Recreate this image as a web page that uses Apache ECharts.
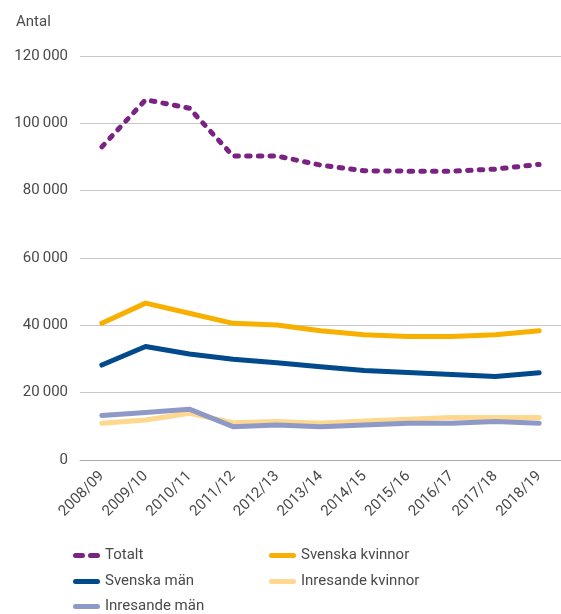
<!DOCTYPE html>
<html>
<head>
<meta charset="utf-8">
<script src="https://cdn.jsdelivr.net/npm/echarts@6/dist/echarts.min.js"></script>
<style>
  html, body { margin: 0; padding: 0; background: #fff; }
  #chart { width: 561px; height: 614px; }
</style>
</head>
<body>
<div id="chart"></div>
<script>
// läsåren
const years = ['2008/09', '2009/10', '2010/11', '2011/12', '2012/13', '2013/14',
  '2014/15', '2015/16', '2016/17', '2017/18', '2018/19']
const totalt = [93000, 107000, 104500, 90300, 90300, 87600, 85900, 85800, 85800, 86400, 87800]
const svenskaKvinnor = [40600, 46600, 43600, 40600, 40100, 38400, 37200, 36700, 36700, 37200, 38400]
const svenskaMan = [28200, 33700, 31500, 29900, 28900, 27700, 26600, 26000, 25400, 24800, 25900]
const inresandeKvinnor = [10900, 11900, 13900, 11100, 11400, 10900, 11600, 12100, 12600, 12600, 12600]
const inresandeMan = [13200, 14100, 15100, 9900, 10400, 9900, 10400, 10900, 10900, 11400, 10900]
const yTicks = [0, 20000, 40000, 60000, 80000, 100000, 120000]

const font = 'Roboto, "Liberation Sans", sans-serif'
const textColor = '#4a4a4a'

// legend icons: rounded bar, and two rounded dashes
const solidIcon = 'path://M2.5,0H24.5A2.5,2.5 0 0 1 24.5,5H2.5A2.5,2.5 0 0 1 2.5,0Z'
const dashIcon = 'path://M2.5,0H9.5A2.5,2.5 0 0 1 9.5,5H2.5A2.5,2.5 0 0 1 2.5,0Z' +
  'M17.5,0H24.5A2.5,2.5 0 0 1 24.5,5H17.5A2.5,2.5 0 0 1 17.5,0Z'

const chart = echarts.init(document.getElementById('chart'))

function lineSeries(name, data, color, dashed) {
  return {
    name: name,
    type: 'line',
    data: data,
    symbol: 'none',
    showSymbol: false,
    smooth: false,
    lineStyle: {
      width: 5,
      color: color,
      type: dashed ? [3.5, 8.2] : 'solid',
      cap: 'round',
      join: 'round'
    },
    itemStyle: { color: color },
    emphasis: { disabled: true }
  }
}

function legendAt(name, left, top, dashed) {
  return {
    data: [name],
    left: left,
    top: top,
    icon: dashed ? dashIcon : solidIcon,
    itemWidth: 27,
    itemHeight: 5,
    padding: 0,
    selectedMode: false,
    textStyle: { fontFamily: font, fontSize: 15, color: textColor }
  }
}

chart.setOption({
  animation: false,
  title: {
    text: 'Antal',
    left: 11,
    top: 10,
    textStyle: { fontFamily: font, fontSize: 15, fontWeight: 'normal', color: textColor }
  },
  legend: [
    legendAt('Totalt', 73, 548, true),
    legendAt('Svenska kvinnor', 269, 548),
    legendAt('Svenska män', 73, 574),
    legendAt('Inresande kvinnor', 269, 574),
    legendAt('Inresande män', 73, 599)
  ],
  grid: {
    left: 80,
    right: -11,
    top: 56,
    bottom: 154,
    containLabel: false
  },
  xAxis: {
    type: 'category',
    data: years,
    boundaryGap: true,
    axisLine: { show: true, lineStyle: { color: '#aaaaaa', width: 1 } },
    axisTick: { show: false },
    axisLabel: {
      interval: 0,
      rotate: 45,
      margin: 14,
      fontFamily: font,
      fontSize: 15,
      color: textColor
    }
  },
  yAxis: {
    type: 'value',
    min: yTicks[0],
    max: yTicks[yTicks.length - 1],
    interval: yTicks[1] - yTicks[0],
    axisLine: { show: false },
    axisTick: { show: false },
    axisLabel: {
      margin: 12,
      fontFamily: font,
      fontSize: 15,
      color: textColor,
      formatter: function (v) {
        return String(v).replace(/\B(?=(\d{3})+(?!\d))/g, '\u2009')
      }
    },
    splitLine: { show: true, lineStyle: { color: '#c8c8c8', width: 1 } }
  },
  series: [
    lineSeries('Totalt', totalt, '#7a2383', true),
    lineSeries('Svenska kvinnor', svenskaKvinnor, '#f8b000'),
    lineSeries('Svenska män', svenskaMan, '#024a8c'),
    lineSeries('Inresande kvinnor', inresandeKvinnor, '#fed88f'),
    lineSeries('Inresande män', inresandeMan, '#8e99c8')
  ]
})
</script>
</body>
</html>
